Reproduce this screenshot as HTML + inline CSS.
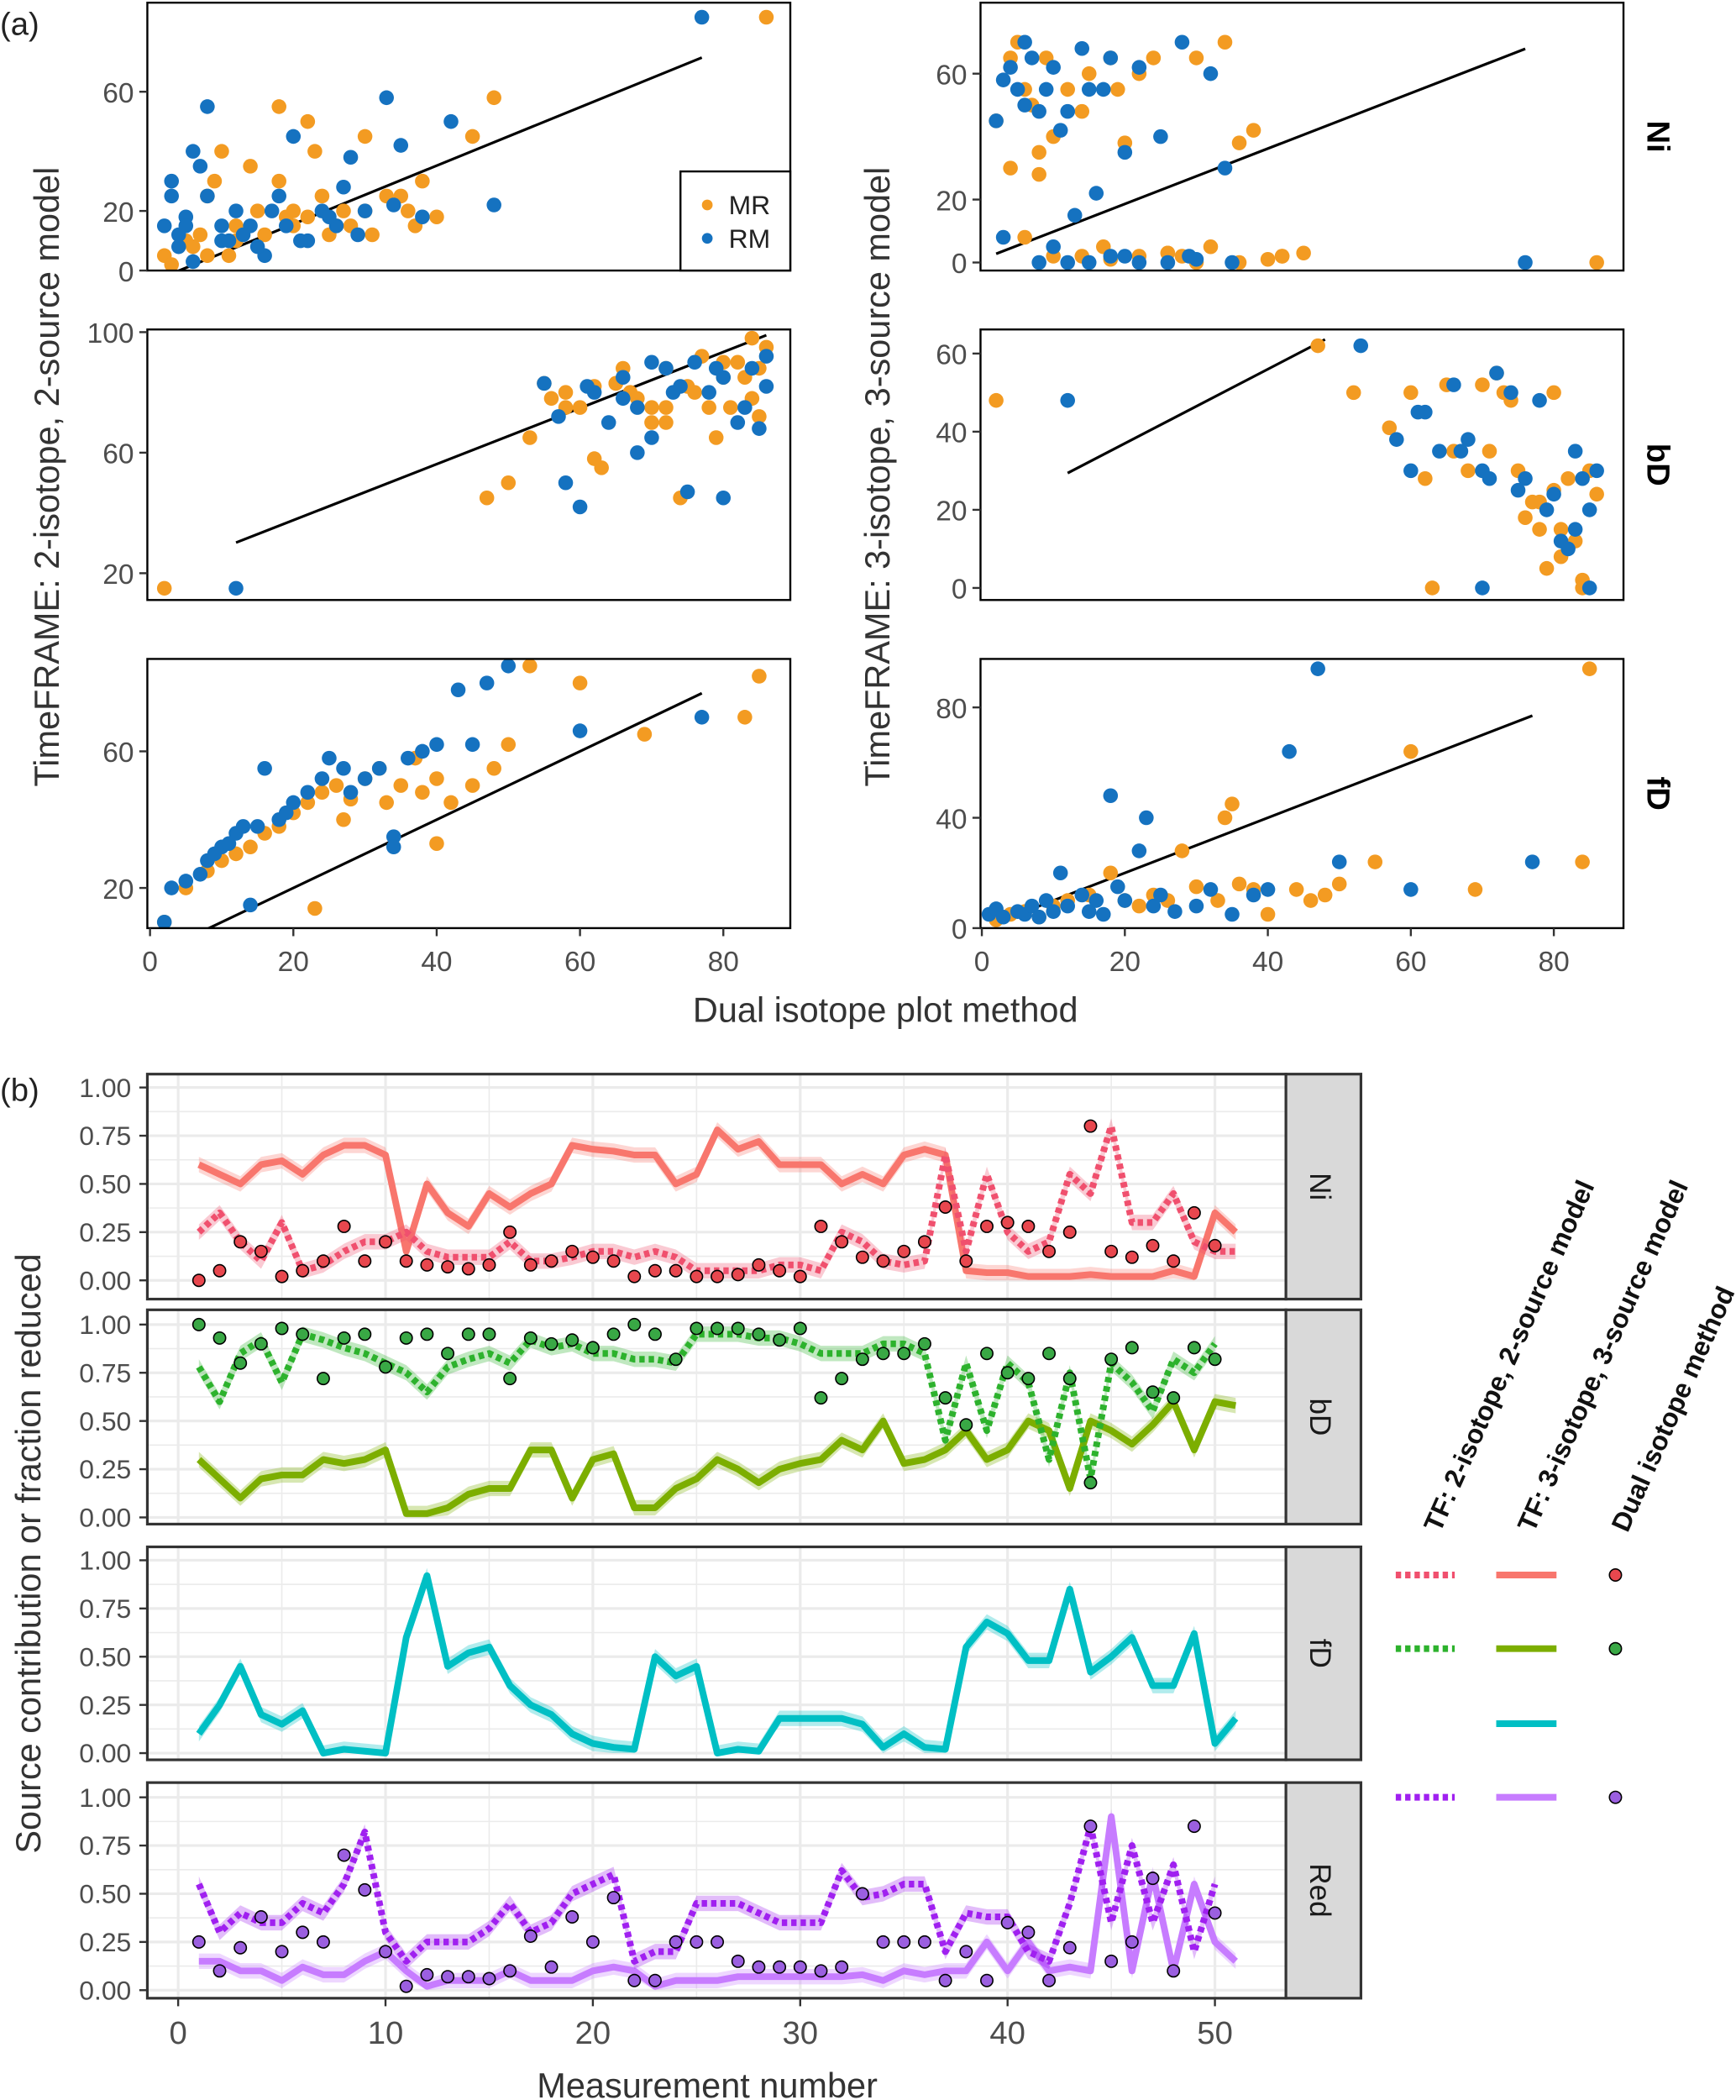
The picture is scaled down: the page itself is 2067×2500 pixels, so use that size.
<!DOCTYPE html>
<html><head><meta charset="utf-8">
<style>
html,body{margin:0;padding:0;background:#fff;}
svg{display:block;font-family:"Liberation Sans","DejaVu Sans",sans-serif;}
</style></head>
<body>
<svg id="chart" width="2067" height="2500" viewBox="0 0 1296 1568" preserveAspectRatio="none" xmlns="http://www.w3.org/2000/svg">
<text x="0" y="26" font-size="24" fill="#222">(a)</text>
<text x="0" y="822" font-size="24" fill="#222">(b)</text>
<text x="661" y="763" font-size="26" fill="#333" text-anchor="middle">Dual isotope plot method</text>
<text transform="translate(44,356) rotate(-90)" font-size="26" fill="#333" text-anchor="middle">TimeFRAME: 2-isotope, 2-source model</text>
<text transform="translate(664,356) rotate(-90)" font-size="26" fill="#333" text-anchor="middle">TimeFRAME: 3-isotope, 3-source model</text>
<text transform="translate(30,1160) rotate(-90)" font-size="26" fill="#333" text-anchor="middle">Source contribution or fraction reduced</text>
<text x="528" y="1566" font-size="26" fill="#333" text-anchor="middle">Measurement number</text>
<g id="root"></g>
</svg>
<script>
// ---------- Panel (a) data ----------
const niLeftMRx=[2,5,8,10,12,15,18,20,22,25,27,30,33,36,37,40,8,12,16,20,24,28,6,9,14,18,22,26,30,35,38,45,48,86,3,7,11,19,23,31];
const niLeftMRy=[5,10,25,40,15,20,30,15,18,12,20,45,25,20,15,18,5,10,12,20,25,15,8,30,35,55,50,15,20,25,30,45,58,85,2,12,5,18,40,12];
const niLeftRMx=[2,3,4,5,6,8,10,12,14,16,18,20,22,24,26,28,30,33,35,38,42,48,4,6,8,10,13,17,21,25,29,34,77,3,5,7,11,15,19,27];
const niLeftRMy=[15,30,8,18,40,55,10,20,15,5,25,45,10,20,15,38,20,58,42,18,50,22,12,3,25,15,12,20,10,18,12,22,85,25,15,35,10,8,15,28];
const bdLeftMRx=[2,47,50,55,58,60,62,65,68,70,72,75,78,80,82,84,85,86,58,62,66,70,74,76,80,83,56,63,67,72,77,81,85,53,65,72,79,84];
const bdLeftMRy=[15,45,50,83,80,75,58,83,78,70,88,82,75,85,90,78,72,95,75,82,88,75,45,80,90,85,78,55,80,70,92,75,88,65,83,75,65,98];
const bdLeftRMx=[12,55,58,60,62,64,66,68,70,72,74,76,78,80,82,84,85,86,57,61,66,70,75,79,83,86,68,73,80];
const bdLeftRMy=[15,83,50,42,80,70,85,75,65,88,82,90,80,85,70,88,68,92,72,82,78,90,47,88,75,82,60,80,45];
const fdLeftMRx=[2,5,8,10,12,14,16,18,20,22,24,26,28,30,32,35,38,40,42,45,48,50,53,60,69,83,85,23,27,33,37,40];
const fdLeftMRy=[10,20,25,28,30,32,36,38,42,45,48,50,46,52,55,50,48,33,45,50,55,62,85,80,65,70,82,14,40,45,58,52];
const fdLeftRMx=[2,3,5,7,8,9,10,11,12,13,15,16,18,19,20,22,24,25,27,28,30,32,34,36,38,40,43,45,47,50,60,77,14,34];
const fdLeftRMy=[10,20,22,24,28,30,32,33,36,38,38,55,40,42,45,48,52,58,55,48,52,55,35,58,60,62,78,62,80,85,66,70,15,32];
const niRightMRx=[2,4,5,6,7,8,9,10,12,14,15,17,18,19,20,22,24,26,28,30,32,34,36,38,40,42,6,10,14,18,22,26,30,36,42,45,86,4,8];
const niRightMRy=[45,65,70,55,50,35,65,40,55,48,60,5,65,55,38,60,65,3,2,65,5,70,0,42,1,2,8,2,2,1,2,3,0,38,2,3,0,30,28];
const niRightRMx=[2,3,4,5,6,7,8,9,10,11,12,13,14,15,16,17,18,20,22,25,28,30,32,35,8,10,12,15,18,22,26,29,34,76,3,6,20];
const niRightRMy=[45,58,62,55,50,65,48,55,62,42,48,15,68,55,22,55,65,2,62,40,70,1,60,0,0,5,0,0,2,0,0,2,30,0,8,70,35];
const bdRightMRx=[2,47,52,57,60,62,65,68,70,72,74,75,77,78,79,80,81,82,83,84,85,86,63,71,76,80,84,66,73,78,81];
const bdRightMRy=[48,62,50,41,50,28,52,30,52,55,48,30,22,15,5,50,8,28,12,0,30,24,0,35,18,25,2,35,50,22,15];
const bdRightRMx=[12,53,58,60,62,64,66,68,70,72,74,76,78,80,81,82,83,84,85,86,61,67,71,75,79,83,70,85];
const bdRightRMy=[48,62,38,30,45,35,52,38,30,55,50,28,48,24,12,10,35,28,20,30,45,35,28,25,20,15,0,0];
const fdRightMRx=[2,4,6,8,10,12,15,18,20,22,24,26,28,30,33,34,35,36,38,40,44,46,48,50,55,60,69,84,85];
const fdRightMRy=[3,5,6,4,8,10,12,20,10,8,12,10,28,15,10,40,45,16,14,5,14,10,12,16,24,64,14,24,94];
const fdRightRMx=[1,2,3,5,6,7,8,9,10,11,12,14,15,16,17,18,19,20,22,23,24,25,27,30,32,35,38,40,43,47,50,60,77];
const fdRightRMy=[5,7,4,6,5,8,4,10,6,20,8,12,6,10,5,48,15,10,28,40,8,12,6,8,14,5,12,14,64,94,24,14,24];
// ---------- Panel (b) data ----------
const niSolid=[0.6,0.55,0.5,0.6,0.62,0.55,0.65,0.7,0.7,0.65,0.15,0.5,0.35,0.28,0.45,0.38,0.45,0.5,0.7,0.68,0.67,0.65,0.65,0.5,0.55,0.78,0.68,0.72,0.6,0.6,0.6,0.5,0.55,0.5,0.65,0.68,0.65,0.05,0.04,0.04,0.02,0.02,0.02,0.03,0.02,0.02,0.02,0.05,0.02,0.35,0.25];
const niDot=[0.25,0.35,0.2,0.1,0.3,0.05,0.08,0.15,0.2,0.2,0.25,0.15,0.12,0.12,0.12,0.2,0.1,0.1,0.12,0.15,0.15,0.12,0.15,0.12,0.05,0.05,0.05,0.05,0.08,0.08,0.05,0.25,0.2,0.1,0.08,0.1,0.65,0.15,0.55,0.25,0.15,0.2,0.55,0.45,0.8,0.3,0.3,0.45,0.2,0.15,0.15];
const niDual=[0,0.05,0.2,0.15,0.02,0.05,0.1,0.28,0.1,0.2,0.1,0.08,0.07,0.06,0.08,0.25,0.08,0.1,0.15,0.12,0.1,0.02,0.05,0.05,0.02,0.02,0.03,0.08,0.05,0.02,0.28,0.2,0.12,0.1,0.15,0.2,0.38,0.1,0.28,0.3,0.28,0.15,0.25,0.8,0.15,0.12,0.18,0.1,0.35,0.18];
const bdSolid=[0.3,0.2,0.1,0.2,0.22,0.22,0.3,0.28,0.3,0.35,0.02,0.02,0.05,0.12,0.15,0.15,0.35,0.35,0.1,0.3,0.33,0.05,0.05,0.15,0.2,0.3,0.25,0.18,0.25,0.28,0.3,0.4,0.35,0.5,0.28,0.3,0.35,0.45,0.3,0.35,0.5,0.45,0.15,0.5,0.45,0.38,0.48,0.6,0.35,0.6,0.58];
const bdDot=[0.78,0.6,0.85,0.92,0.7,0.95,0.92,0.88,0.85,0.8,0.75,0.65,0.78,0.82,0.85,0.8,0.92,0.88,0.9,0.85,0.85,0.82,0.82,0.8,0.95,0.95,0.95,0.93,0.93,0.9,0.85,0.85,0.85,0.9,0.9,0.85,0.4,0.8,0.45,0.8,0.7,0.3,0.75,0.2,0.8,0.7,0.55,0.82,0.75,0.9];
const bdDual=[1,0.93,0.8,0.9,0.98,0.95,0.72,0.93,0.95,0.78,0.93,0.95,0.85,0.95,0.95,0.72,0.93,0.9,0.92,0.88,0.95,1,0.95,0.82,0.98,0.98,0.98,0.95,0.92,0.98,0.62,0.72,0.82,0.85,0.85,0.9,0.62,0.48,0.85,0.75,0.72,0.85,0.72,0.18,0.82,0.88,0.65,0.62,0.88,0.82];
const fdSolid=[0.1,0.25,0.45,0.2,0.15,0.22,0.0,0.02,0.01,0.0,0.6,0.92,0.45,0.52,0.55,0.35,0.25,0.2,0.1,0.05,0.03,0.02,0.5,0.4,0.45,0.0,0.02,0.01,0.18,0.18,0.18,0.18,0.15,0.03,0.1,0.03,0.02,0.55,0.68,0.62,0.48,0.48,0.85,0.42,0.5,0.6,0.35,0.35,0.62,0.05,0.18];
const redSolid=[0.15,0.15,0.1,0.1,0.05,0.12,0.08,0.08,0.15,0.2,0.1,0.02,0.05,0.05,0.05,0.1,0.05,0.05,0.05,0.1,0.12,0.1,0.02,0.05,0.05,0.05,0.07,0.07,0.07,0.07,0.07,0.07,0.08,0.05,0.1,0.08,0.1,0.1,0.25,0.1,0.25,0.1,0.12,0.1,0.9,0.1,0.6,0.1,0.55,0.25,0.15];
const redDot=[0.55,0.3,0.4,0.35,0.35,0.45,0.4,0.55,0.82,0.3,0.15,0.25,0.25,0.25,0.32,0.45,0.3,0.35,0.5,0.55,0.6,0.15,0.2,0.2,0.45,0.45,0.45,0.4,0.35,0.35,0.35,0.62,0.48,0.5,0.55,0.55,0.2,0.4,0.38,0.38,0.2,0.15,0.45,0.85,0.35,0.75,0.35,0.65,0.2,0.55];
const redDual=[0.25,0.1,0.22,0.38,0.2,0.3,0.25,0.7,0.52,0.2,0.02,0.08,0.07,0.07,0.06,0.1,0.28,0.12,0.38,0.25,0.48,0.05,0.05,0.25,0.25,0.25,0.15,0.12,0.12,0.12,0.1,0.12,0.5,0.25,0.25,0.25,0.05,0.2,0.05,0.35,0.3,0.05,0.22,0.85,0.15,0.25,0.58,0.1,0.85,0.4];
const bTicks=[0,0.25,0.5,0.75,1];
const bTickLabels=["0.00","0.25","0.50","0.75","1.00"];
const bxTicks=[0,10,20,30,40,50];

const NS="http://www.w3.org/2000/svg";
const root=document.getElementById('root');
function mk(tag,attrs,parent){const e=document.createElementNS(NS,tag);for(const k in attrs)e.setAttribute(k,attrs[k]);(parent||root).appendChild(e);return e;}
const ORANGE="#F39B22",BLUE="#1572C0";

function scatterPanel(p){
  const g=mk('g',{});
  
  
  const sx=v=>p.x0+(v-0)*(p.x1-p.x0)/80, sy=v=>p.y0-(v-0)*p.k;
  const clip='clip-'+p.name;
  const cp=mk('clipPath',{id:clip},g);mk('rect',{x:p.L,y:p.T,width:p.R-p.L,height:p.B-p.T},cp);
  const ln=mk('line',{x1:sx(p.lx[0]),y1:sy(p.lx[0]*p.slope+p.icpt),x2:sx(p.lx[1]),y2:sy(p.lx[1]*p.slope+p.icpt),stroke:'#000','stroke-width':2,'clip-path':`url(#${clip})`},g);
  
  
  [[p.mx,p.my,ORANGE,'mr'],[p.rx,p.ry,BLUE,'rm']].forEach(([xs,ys,c,n])=>{
    xs.forEach((v,i)=>{const d=mk('circle',{cx:sx(v),cy:sy(ys[i]),r:5.5,fill:c,'clip-path':`url(#${clip})`},g);
      
      });
  });
  mk('rect',{x:p.L,y:p.T,width:p.R-p.L,height:p.B-p.T,fill:'none',stroke:'#000','stroke-width':1.5},g);
  p.yt.forEach(t=>{const y=sy(t);mk('line',{x1:p.L-6,x2:p.L,y1:y,y2:y,stroke:'#333','stroke-width':1.5},g);
    const tx=mk('text',{x:p.L-10,y:y+8,'font-size':21,fill:'#4d4d4d','text-anchor':'end'},g);tx.textContent=t;
    
    });
  if(p.xt){[0,20,40,60,80].forEach(t=>{const x=sx(t);mk('line',{x1:x,x2:x,y1:p.B,y2:p.B+6,stroke:'#333','stroke-width':1.5},g);
    const tx=mk('text',{x:x,y:p.B+32,'font-size':21,fill:'#4d4d4d','text-anchor':'middle'},g);tx.textContent=t;
    
    });}
  if(p.strip){const tx=mk('text',{transform:`translate(${p.R+18},${(p.T+p.B)/2}) rotate(90)`,'font-size':24,'font-weight':'bold',fill:'#000','text-anchor':'middle'},g);
    tx.textContent=p.strip;}
}
scatterPanel({name:'ni-2source',L:110,R:590,T:2,B:202,x0:112,x1:540,y0:202,k:2.225,yt:[0,20,60],mx:niLeftMRx,my:niLeftMRy,rx:niLeftRMx,ry:niLeftRMy,slope:0.98,icpt:-4,lx:[2,77]});
scatterPanel({name:'bd-2source',L:110,R:590,T:246,B:448,x0:112,x1:540,y0:473,k:2.25,yt:[20,60,100],mx:bdLeftMRx,my:bdLeftMRy,rx:bdLeftRMx,ry:bdLeftRMy,slope:0.93,icpt:19,lx:[12,86]});
scatterPanel({name:'fd-2source',L:110,R:590,T:492,B:693,x0:112,x1:540,y0:714,k:2.55,yt:[20,60],mx:fdLeftMRx,my:fdLeftMRy,rx:fdLeftRMx,ry:fdLeftRMy,slope:1.0,icpt:0,xt:true,lx:[7,77]});
scatterPanel({name:'ni-3source',L:732,R:1212,T:2,B:202,x0:733,x1:1160,y0:196,k:2.35,yt:[0,20,60],mx:niRightMRx,my:niRightMRy,rx:niRightRMx,ry:niRightRMy,slope:0.88,icpt:1,strip:'Ni',lx:[2,76]});
scatterPanel({name:'bd-3source',L:732,R:1212,T:246,B:448,x0:733,x1:1160,y0:439,k:2.917,yt:[0,20,40,60],mx:bdRightMRx,my:bdRightMRy,rx:bdRightRMx,ry:bdRightRMy,slope:0.95,icpt:18,strip:'bD',lx:[12,48]});
scatterPanel({name:'fd-3source',L:732,R:1212,T:492,B:693,x0:733,x1:1160,y0:693,k:2.06,yt:[0,40,80],mx:fdRightMRx,my:fdRightMRy,rx:fdRightRMx,ry:fdRightRMy,slope:1.0,icpt:0,xt:true,strip:'fD',lx:[2,77]});
// legend a
(function(){const g=mk('g',{});
 mk('rect',{x:508,y:128,width:82,height:74,fill:'#fff',stroke:'#000','stroke-width':1.5},g);
 [['MR',ORANGE,153],['RM',BLUE,178]].forEach(([t,c,y])=>{mk('circle',{cx:528,cy:y,r:4,fill:c},g);
  const tx=mk('text',{x:544,y:y+7,'font-size':20,fill:'#222'},g);tx.textContent=t;
  });})();

// ---------- panel b ----------
const bxs=v=>133+v*15.48;
function bRow(r){
  const g=mk('g',{});
  const sy=v=>r.y0-v*144;
  mk('rect',{x:110,y:r.T,width:850,height:r.B-r.T,fill:'#fff'},g);
  for(let t=0;t<=1.0001;t+=0.125){mk('line',{x1:110,x2:960,y1:sy(t),y2:sy(t),stroke:'#ebebeb','stroke-width':t*8%2?1:2},g);}
  for(let t=0;t<=55;t+=5){mk('line',{x1:bxs(t),x2:bxs(t),y1:r.T,y2:r.B,stroke:'#ebebeb','stroke-width':t%10?1:2},g);}
  const path=(arr,col,dash,w,nm)=>{
    let d='';arr.forEach((v,i)=>{d+=(i?'L':'M')+bxs(i+1)+','+sy(v);});
    let up=arr.map((v,i)=>bxs(i+1)+','+sy(Math.min(1,v+0.04))).join(' ');
    let dn=arr.map((v,i)=>bxs(i+1)+','+sy(Math.max(0,v-0.04))).reverse().join(' ');
    const b=mk('polygon',{points:up+' '+dn,fill:col,opacity:0.3},g);
    
    const p=mk('path',{d:d,fill:'none',stroke:col,'stroke-width':w,'stroke-dasharray':dash,'stroke-linejoin':'round'},g);
    
  };
  if(r.solid)path(r.solid,r.sc,'none',5,'line-3source');
  if(r.dot)path(r.dot,r.dc,'4,3',5,'line-2source');
  if(r.dual)r.dual.forEach((v,i)=>{const c=mk('circle',{cx:bxs(i+1),cy:sy(v),r:4.5,fill:r.pc,stroke:'#000','stroke-width':1},g);
    });
  mk('rect',{x:110,y:r.T,width:850,height:r.B-r.T,fill:'none',stroke:'#333','stroke-width':2},g);
  mk('rect',{x:960,y:r.T,width:56,height:r.B-r.T,fill:'#d9d9d9',stroke:'#333','stroke-width':2},g);
  const st=mk('text',{transform:`translate(978,${(r.T+r.B)/2}) rotate(90)`,'font-size':22,fill:'#1a1a1a','text-anchor':'middle'},g);
  st.textContent=r.strip;
  bTicks.forEach((t,i)=>{mk('line',{x1:104,x2:110,y1:sy(t),y2:sy(t),stroke:'#333','stroke-width':1.5},g);
    const tx=mk('text',{x:98,y:sy(t)+7,'font-size':20,fill:'#4d4d4d','text-anchor':'end'},g);tx.textContent=bTickLabels[i];
    });
}
bRow({name:'row-ni',T:802,B:970,y0:956,solid:niSolid,dot:niDot,dual:niDual,sc:'#F8766D',dc:'#F0506E',pc:'#E8474E',strip:'Ni'});
bRow({name:'row-bd',T:978,B:1138,y0:1133,solid:bdSolid,dot:bdDot,dual:bdDual,sc:'#7CAE00',dc:'#2DB22D',pc:'#39A845',strip:'bD'});
bRow({name:'row-fd',T:1155,B:1314,y0:1309,solid:fdSolid,sc:'#00BFC4',strip:'fD'});
bRow({name:'row-red',T:1331,B:1492,y0:1486,solid:redSolid,dot:redDot,dual:redDual,sc:'#C77CFF',dc:'#A020F0',pc:'#9B5FE0',strip:'Red'});
bxTicks.forEach(t=>{mk('line',{x1:bxs(t),x2:bxs(t),y1:1492,y2:1498,stroke:'#333','stroke-width':1.5});
  const tx=mk('text',{x:bxs(t),y:1526,'font-size':24,fill:'#4d4d4d','text-anchor':'middle'});tx.textContent=t;
  });
// legend b
(function(){const g=mk('g',{});
 [['TF: 2-isotope, 2-source model',1075],['TF: 3-isotope, 3-source model',1145],['Dual isotope method',1215]].forEach(([t,x])=>{
  const tx=mk('text',{transform:`translate(${x},1145) rotate(-66)`,'font-size':20,'font-weight':'bold',fill:'#111'},g);tx.textContent=t;
  });
 [[1176,'#F0506E','#F8766D','#E8474E'],[1231,'#2DB22D','#7CAE00','#39A845'],[1287,null,'#00BFC4',null],[1342,'#A020F0','#C77CFF','#9B5FE0']].forEach(([y,d,s,p])=>{
  if(d)mk('line',{x1:1042,x2:1086,y1:y,y2:y,stroke:d,'stroke-width':5,'stroke-dasharray':'4,3'},g);
  mk('line',{x1:1117,x2:1162,y1:y,y2:y,stroke:s,'stroke-width':5},g);
  if(p)mk('circle',{cx:1206,cy:y,r:4.5,fill:p,stroke:'#000','stroke-width':1},g);
 });})();
</script>
</body></html>
